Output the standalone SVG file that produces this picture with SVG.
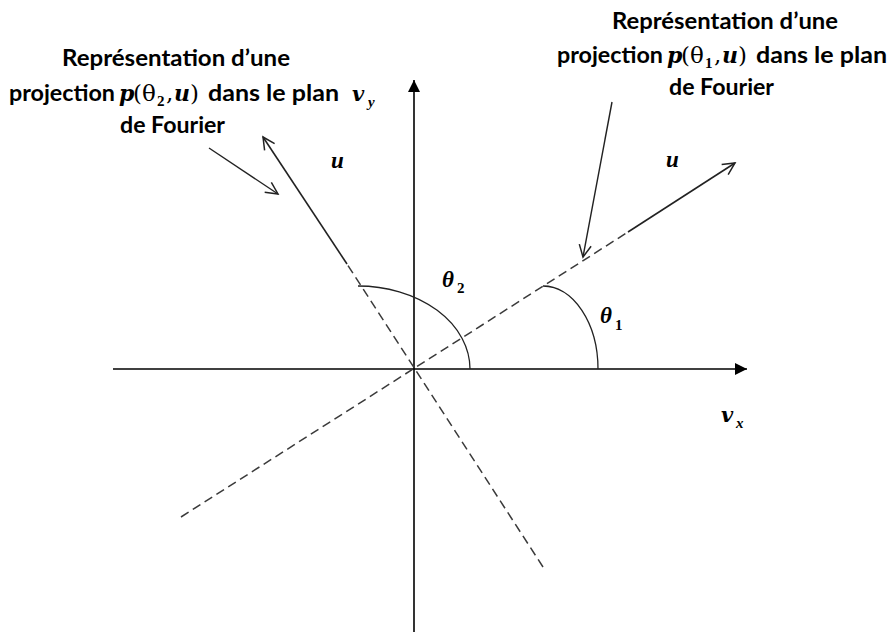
<svg xmlns="http://www.w3.org/2000/svg" width="890" height="632" viewBox="0 0 890 632">
<defs>
<marker id="filled" markerUnits="userSpaceOnUse" markerWidth="13" markerHeight="13" refX="12" refY="6" orient="auto" overflow="visible">
<path d="M0,0 L12,6 L0,12 z" fill="#000"/>
</marker>
<marker id="open" markerUnits="userSpaceOnUse" markerWidth="14" markerHeight="14" refX="12" refY="6" orient="auto" overflow="visible">
<path d="M0,0 L12,6 L0,12" fill="none" stroke="#222" stroke-width="1.5"/>
</marker>
<style>
.axis{stroke:#000;stroke-width:1.6;fill:none}
.dash{stroke:#3a3a3a;stroke-width:1.5;stroke-dasharray:9 5;fill:none}
.solid{stroke:#222;stroke-width:1.6;fill:none}
.arc{stroke:#222;stroke-width:1.3;fill:none}
.ptr{stroke:#222;stroke-width:1.4;fill:none}
.lbl{font-family:"Lato","Liberation Sans",sans-serif;font-weight:bold;font-size:22px;fill:#000}
.m{font-family:"DejaVu Serif","Liberation Serif",serif;font-size:23px;fill:#000}
.mi{font-family:"DejaVu Serif","Liberation Serif",serif;font-size:22px;font-style:italic;font-weight:bold;fill:#000}
.sub{font-family:"Liberation Serif","DejaVu Serif",serif;font-size:15px;font-weight:bold;fill:#000}
.subi{font-family:"Liberation Serif","DejaVu Serif",serif;font-size:15px;font-weight:bold;font-style:italic;fill:#000}
.sym{font-family:"Liberation Serif","DejaVu Serif",serif;font-size:23px;font-style:italic;font-weight:bold;fill:#000}
.v{font-family:"DejaVu Serif","Liberation Serif",serif;font-size:21px;font-style:italic;font-weight:bold;fill:#000}
</style>
</defs>
<rect width="890" height="632" fill="#fff"/>

<g id="axes">
<line class="axis" x1="113" y1="369" x2="747" y2="369" marker-end="url(#filled)"/>
<line class="axis" x1="414" y1="632" x2="414" y2="80" marker-end="url(#filled)"/>
</g>

<g id="projection1">
<line class="dash" x1="181" y1="517" x2="628" y2="232"/>
<line class="solid" x1="628" y1="232" x2="735" y2="163" marker-end="url(#open)"/>
</g>

<g id="projection2">
<line class="dash" x1="543" y1="567" x2="347" y2="264"/>
<line class="solid" x1="347" y1="264" x2="263" y2="137" marker-end="url(#open)"/>
</g>

<g id="angles">
<path class="arc" d="M358,286 A112,83 0 0 1 470,369"/>
<path class="arc" d="M543,286 A55,83 0 0 1 598,369"/>
</g>

<g id="connectors">
<line class="ptr" x1="209" y1="148" x2="278" y2="194" marker-end="url(#open)"/>
<line class="ptr" x1="612" y1="102" x2="583" y2="257" marker-end="url(#open)"/>
</g>

<g id="label-left">
<text class="lbl" x="62" y="66" textLength="228" lengthAdjust="spacingAndGlyphs">Représentation d’une</text>
<text class="lbl" x="9" y="101" textLength="106" lengthAdjust="spacingAndGlyphs">projection</text>
<text class="mi" x="119" y="101">p</text>
<text class="m" x="133" y="101">(</text>
<text class="m" x="142" y="101">θ</text>
<text class="sub" x="157" y="106">2</text>
<text class="m" x="166" y="101">,</text>
<text class="mi" x="174" y="101">u</text>
<text class="m" x="190" y="101">)</text>
<text class="lbl" x="208" y="101" textLength="131" lengthAdjust="spacingAndGlyphs">dans le plan</text>
<text class="lbl" x="120" y="133" textLength="105" lengthAdjust="spacingAndGlyphs">de Fourier</text>
</g>

<g id="label-right">
<text class="lbl" x="612" y="29" textLength="226" lengthAdjust="spacingAndGlyphs">Représentation d’une</text>
<text class="lbl" x="557" y="63" textLength="106" lengthAdjust="spacingAndGlyphs">projection</text>
<text class="mi" x="667" y="63">p</text>
<text class="m" x="681" y="63">(</text>
<text class="m" x="690" y="63">θ</text>
<text class="sub" x="705" y="68">1</text>
<text class="m" x="714" y="63">,</text>
<text class="mi" x="722" y="63">u</text>
<text class="m" x="738" y="63">)</text>
<text class="lbl" x="756" y="63" textLength="131" lengthAdjust="spacingAndGlyphs">dans le plan</text>
<text class="lbl" x="669" y="95" textLength="105" lengthAdjust="spacingAndGlyphs">de Fourier</text>
</g>

<g id="symbols">
<text class="sym" x="331" y="168">u</text>
<text class="sym" x="666" y="167">u</text>
<text class="sym" x="442" y="287">θ</text><text class="sub" x="457" y="293">2</text>
<text class="sym" x="600" y="323">θ</text><text class="sub" x="615" y="330">1</text>
<text class="v" x="352" y="101">v</text><text class="subi" x="368" y="107">y</text>
<text class="v" x="721" y="422">v</text><text class="subi" x="736" y="428">x</text>
</g>
</svg>
